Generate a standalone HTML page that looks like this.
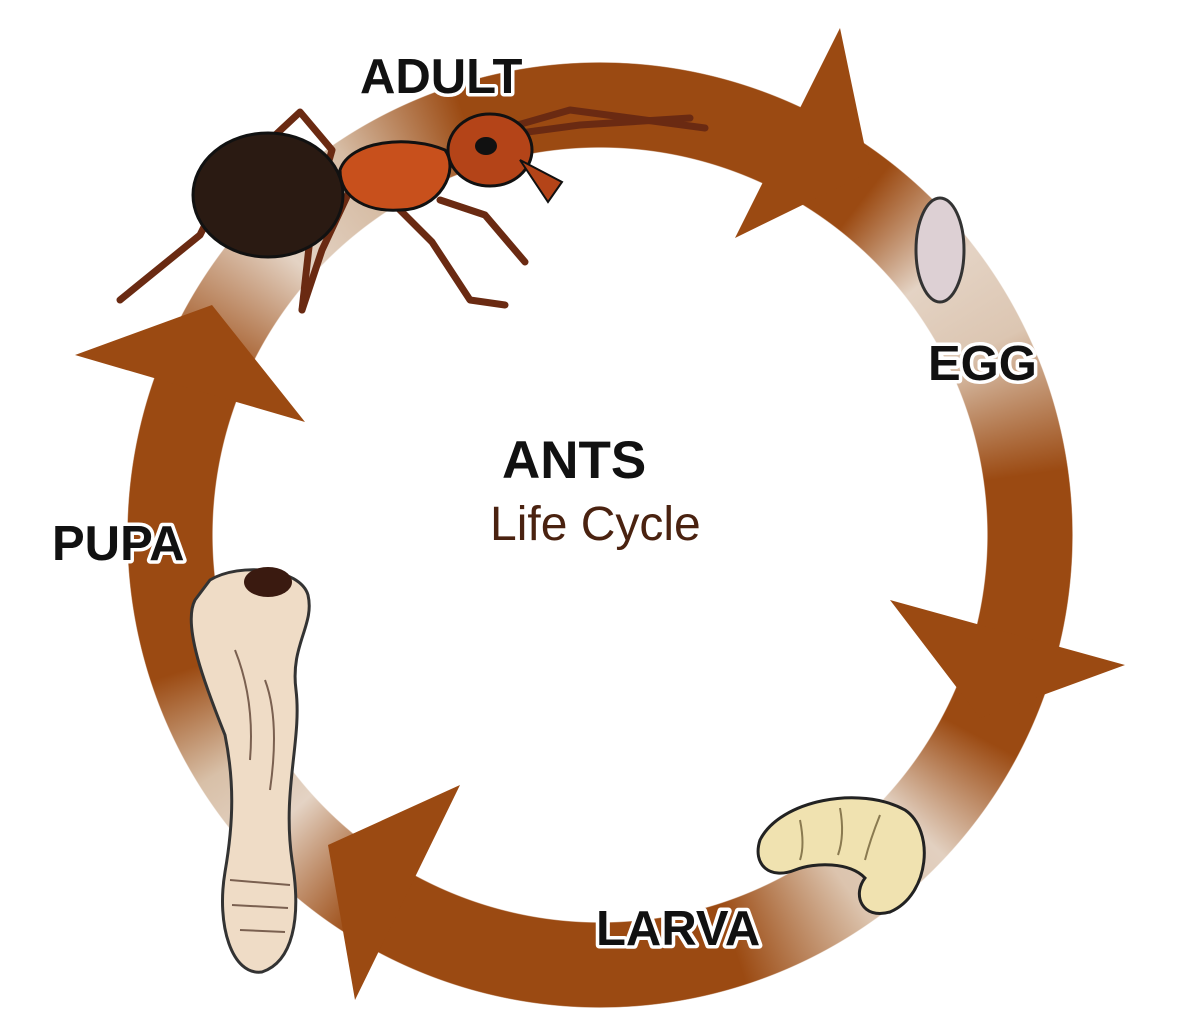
<!DOCTYPE html>
<html><head><meta charset="utf-8"><style>
html,body{margin:0;padding:0;background:#fff;width:1200px;height:1022px;overflow:hidden}
.ring{position:absolute;left:127px;top:62px;width:946px;height:946px;border-radius:50%;
background:conic-gradient(from 0deg,#9b4a12 0deg,#9b4a12 38deg,#e4d3c4 52deg,#dcc6b2 64deg,#9b4a12 82deg,#9b4a12 118deg,#e2d0c0 133deg,#dcc4ae 145deg,#9b4a12 162deg,#9b4a12 212deg,#e4d3c4 228deg,#d8c0a8 238deg,#9b4a12 252deg,#9b4a12 292deg,#e4d3c4 312deg,#d6bca4 326deg,#9b4a12 342deg,#9b4a12 360deg);
-webkit-mask:radial-gradient(circle,transparent 387px,#000 388px,#000 472px,transparent 473px);
mask:radial-gradient(circle,transparent 387px,#000 388px,#000 472px,transparent 473px)}
svg{position:absolute;left:0;top:0}
.lbl{font-family:"Liberation Sans",sans-serif;font-weight:bold;font-size:49px;fill:#111;stroke:#fff;stroke-width:7px;paint-order:stroke;stroke-linejoin:round}
</style></head><body>
<div class="ring"></div>
<svg width="1200" height="1022">
<g fill="#9b4a12">
<polygon points="840,28 870,172 735,238"/>
<polygon points="890,600 1125,665 980,718"/>
<polygon points="460,785 355,1000 328,845"/>
<polygon points="75,355 305,422 212,305"/>
</g>
<!-- egg -->
<ellipse cx="940" cy="250" rx="24" ry="52" fill="#ddd0d4" stroke="#333" stroke-width="3"/>
<!-- larva -->
<path d="M760,840 C780,800 860,785 905,810 C935,830 930,895 890,912 C862,920 852,895 865,878 C850,862 815,862 795,870 C770,880 752,865 760,840Z" fill="#f0e2b0" stroke="#222" stroke-width="3"/>
<g stroke="#8a7a50" stroke-width="2" fill="none"><path d="M800,820 Q805,845 800,860"/><path d="M840,808 Q845,835 838,855"/><path d="M880,815 Q870,840 865,860"/></g>
<!-- pupa -->
<path d="M210,580 C240,562 300,568 308,595 C315,625 290,645 296,690 C302,740 282,790 292,860 C302,920 292,962 262,972 C232,976 216,925 225,872 C234,820 234,780 225,735 C205,685 182,625 195,600 Z" fill="#efdcc6" stroke="#333" stroke-width="3"/>
<g stroke="#7a6050" stroke-width="2" fill="none"><path d="M235,650 Q255,700 250,760"/><path d="M265,680 Q280,720 270,790"/><path d="M230,880 L290,885"/><path d="M232,905 L288,908"/><path d="M240,930 L285,932"/></g>
<ellipse cx="268" cy="582" rx="24" ry="15" fill="#3a1a10"/>
<!-- ant -->
<g stroke="#6a2a12" stroke-width="7" fill="none" stroke-linecap="round" stroke-linejoin="round">
<path d="M500,130 L570,110 L705,128"/>
<path d="M505,135 L580,125 L690,118"/>
<path d="M270,140 L300,112 L332,150 L312,220 L302,310"/>
<path d="M230,175 L200,235 L120,300"/>
<path d="M350,190 L322,250 L302,310"/>
<path d="M390,200 L432,242 L470,300 L505,305"/>
<path d="M440,200 L485,215 L525,262"/>
</g>
<ellipse cx="268" cy="195" rx="75" ry="62" fill="#2a1a12" stroke="#111" stroke-width="3"/>
<path d="M340,170 C350,140 410,135 445,150 C460,170 440,210 400,210 C370,212 340,200 340,170Z" fill="#c8501c" stroke="#111" stroke-width="3"/>
<ellipse cx="490" cy="150" rx="42" ry="36" fill="#b44418" stroke="#111" stroke-width="3"/>
<path d="M520,160 L562,182 L548,202 Z" fill="#b44418" stroke="#111" stroke-width="2"/>
<ellipse cx="486" cy="146" rx="11" ry="9" fill="#111"/>
<text class="lbl" x="360" y="93">ADULT</text>
<text class="lbl" x="928" y="380">EGG</text>
<text class="lbl" x="596" y="945">LARVA</text>
<text class="lbl" x="52" y="560">PUPA</text>
<text x="502" y="478" font-family="Liberation Sans,sans-serif" font-weight="bold" font-size="53" fill="#111">ANTS</text>
<text x="490" y="540" font-family="Liberation Sans,sans-serif" font-size="48" fill="#4a2210">Life Cycle</text>
</svg>
</body></html>
